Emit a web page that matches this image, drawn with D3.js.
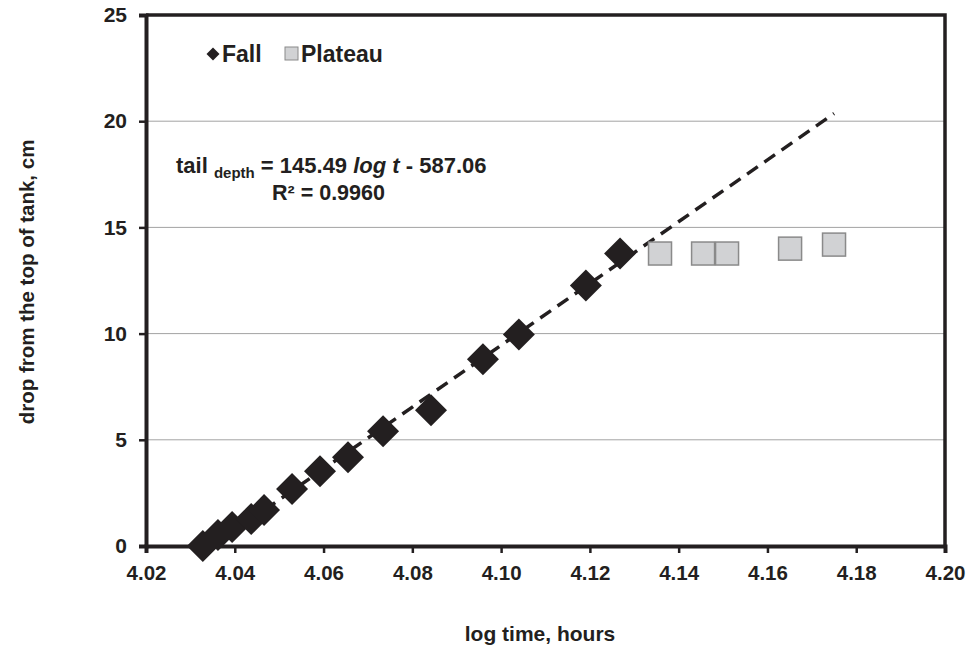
<!DOCTYPE html>
<html>
<head>
<meta charset="utf-8">
<script src="https://cdn.jsdelivr.net/npm/d3@7"></script>
<style>
  body { margin: 0; background: #fff; }
  text { font-family: "Liberation Sans", Arial, Helvetica, sans-serif; font-weight: bold; fill: #231f20; }
</style>
</head>
<body>
<div id="chart"></div>
<script>
// Fall series (log time, hours ; drop, cm)
var fallX = [4.0328, 4.0362, 4.0394, 4.0437, 4.0466, 4.0529, 4.0592, 4.0655, 4.0734, 4.0842, 4.0959, 4.1040, 4.1191, 4.1268];
var fallY = [0.0, 0.52, 0.89, 1.27, 1.69, 2.68, 3.52, 4.18, 5.40, 6.39, 8.79, 9.96, 12.27, 13.77];
// Plateau series
var plateauX = [4.1358, 4.1455, 4.1509, 4.1651, 4.1750];
var plateauY = [13.77, 13.77, 13.77, 14.00, 14.19];
// Linear fit: tail_depth = slope * log t + intercept
var fitSlope = 145.49;
var fitIntercept = -587.06;
var fitRange = [4.03505, 4.175];
var xTicks = [4.02, 4.04, 4.06, 4.08, 4.10, 4.12, 4.14, 4.16, 4.18, 4.20];
var yTicks = [0, 5, 10, 15, 20, 25];

var W = 970, H = 648;
var margin = { top: 15, right: 25, bottom: 102, left: 146 };
var width = W - margin.left - margin.right;
var height = H - margin.top - margin.bottom;
var ink = "#231f20";
var font = "'Liberation Sans', Arial, Helvetica, sans-serif";

var svg = d3.select("#chart").append("svg")
  .attr("width", W)
  .attr("height", H);

var x = d3.scaleLinear().domain([4.02, 4.20]).range([0, width]);
var y = d3.scaleLinear().domain([0, 25]).range([height, 0]);

var g = svg.append("g")
  .attr("transform", "translate(" + margin.left + "," + margin.top + ")");

// Gridlines
g.append("g").selectAll("line")
  .data(yTicks.filter(function(d) { return d > 0 && d < 25; }))
  .enter().append("line")
  .attr("x1", 0).attr("x2", width)
  .attr("y1", function(d) { return y(d); })
  .attr("y2", function(d) { return y(d); })
  .attr("stroke", "#a3a3a3")
  .attr("stroke-width", 1);

// Frame (top, right)
g.append("path")
  .attr("d", "M0,0H" + width + "V" + height)
  .attr("fill", "none")
  .attr("stroke", ink)
  .attr("stroke-width", 3.5);

// X axis
var xAxis = g.append("g")
  .attr("transform", "translate(0," + height + ")")
  .call(d3.axisBottom(x).tickValues(xTicks).tickFormat(d3.format(".2f")).tickSize(7).tickPadding(12));
xAxis.select(".domain").attr("stroke", ink).attr("stroke-width", 4);
xAxis.selectAll(".tick line").attr("stroke", ink).attr("stroke-width", 2.5);
xAxis.selectAll("text").attr("fill", ink)
  .style("font-size", "20.5px").style("font-family", font).style("font-weight", "bold");

// Y axis
var yAxis = g.append("g")
  .call(d3.axisLeft(y).tickValues(yTicks).tickSize(7).tickPadding(12));
yAxis.select(".domain").attr("stroke", ink).attr("stroke-width", 4);
yAxis.selectAll(".tick line").attr("stroke", ink).attr("stroke-width", 2.5);
yAxis.selectAll("text").attr("fill", ink)
  .style("font-size", "21px").style("font-family", font).style("font-weight", "bold");

// Trend line
g.append("line")
  .attr("x1", x(fitRange[0])).attr("y1", y(fitSlope * fitRange[0] + fitIntercept))
  .attr("x2", x(fitRange[1])).attr("y2", y(fitSlope * fitRange[1] + fitIntercept))
  .attr("stroke", ink)
  .attr("stroke-width", 3.5)
  .attr("stroke-dasharray", "13,8");

// Plateau squares
var sq = 23;
g.selectAll(".plateau")
  .data(plateauX.map(function(v, i) { return [v, plateauY[i]]; }))
  .enter().append("rect")
  .attr("class", "plateau")
  .attr("x", function(d) { return x(d[0]) - sq / 2; })
  .attr("y", function(d) { return y(d[1]) - sq / 2; })
  .attr("width", sq).attr("height", sq)
  .attr("fill", "#d1d2d4")
  .attr("stroke", "#8a8a8a")
  .attr("stroke-width", 1.5);

// Fall diamonds
var dh = 16;
var diamond = "M0," + (-dh) + "L" + dh + ",0L0," + dh + "L" + (-dh) + ",0Z";
g.selectAll(".fall")
  .data(fallX.map(function(v, i) { return [v, fallY[i]]; }))
  .enter().append("path")
  .attr("class", "fall")
  .attr("d", diamond)
  .attr("transform", function(d) { return "translate(" + x(d[0]) + "," + y(d[1]) + ")"; })
  .attr("fill", ink);

// Legend
var leg = svg.append("g");
leg.append("path")
  .attr("d", "M0,-6.5L6.5,0L0,6.5L-6.5,0Z")
  .attr("transform", "translate(213,54)")
  .attr("fill", ink);
leg.append("text").attr("x", 222).attr("y", 62).style("font-size", "23px").text("Fall");
leg.append("rect")
  .attr("x", 285).attr("y", 47).attr("width", 13).attr("height", 13)
  .attr("fill", "#d1d2d4").attr("stroke", "#8a8a8a").attr("stroke-width", 1);
leg.append("text").attr("x", 301).attr("y", 62).style("font-size", "23px").text("Plateau");

// Equation
var eq = svg.append("text").attr("x", 176).attr("y", 173).style("font-size", "22px");
eq.append("tspan").text("tail ");
eq.append("tspan").style("font-size", "15px").attr("dy", 5).text("depth");
eq.append("tspan").attr("dy", -5).text(" = 145.49 ");
eq.append("tspan").attr("font-style", "italic").text("log t");
eq.append("tspan").text(" - 587.06");
svg.append("text").attr("x", 272).attr("y", 200).style("font-size", "21.5px").text("R² = 0.9960");

// Axis titles
svg.append("text")
  .attr("transform", "translate(34,282) rotate(-90)")
  .attr("text-anchor", "middle")
  .style("font-size", "20.5px")
  .text("drop from the top of tank, cm");
svg.append("text")
  .attr("x", 540).attr("y", 641)
  .attr("text-anchor", "middle")
  .style("font-size", "21px")
  .text("log time, hours");
</script>
</body>
</html>
